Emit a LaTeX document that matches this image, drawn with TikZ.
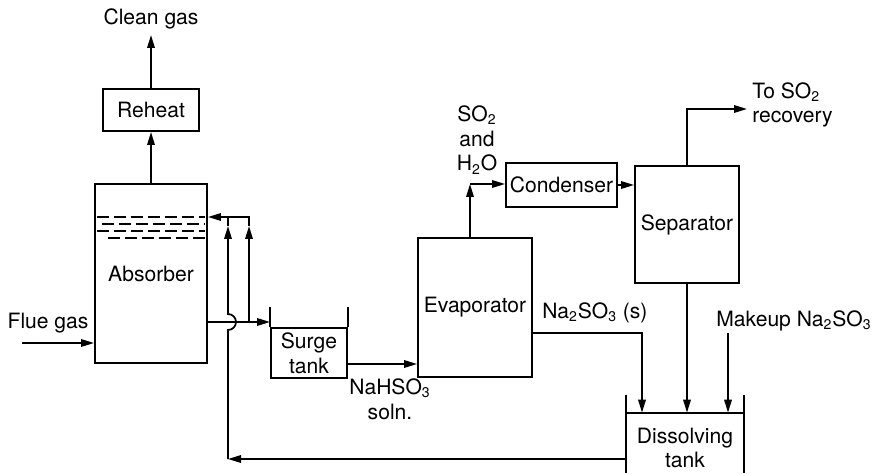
\documentclass[tikz,border=0pt]{standalone}
\usepackage{fontspec}
\setmainfont{TeX Gyre Heros}
\usetikzlibrary{positioning,arrows.meta}

\begin{document}
\begin{tikzpicture}[
    x=0.02cm, y=-0.02cm,
    every node/.style={font=\fontsize{12}{14}\selectfont},
    box/.style={draw, line width=1.1pt, inner sep=0pt, align=center},
    tank/.style={inner sep=0pt, align=center},
    lbl/.style={inner sep=0pt, align=center},
    arr/.style={-{Triangle[length=2.6mm, width=1.5mm]}, line width=1pt},
    wall/.style={line width=1.1pt},
    tray/.style={line width=1.1pt, dash pattern=on 2.4mm off 1mm},
]
    \useasboundingbox (0,0) rectangle (875,473);

    % process units
    \node[box, minimum width=2.24cm, minimum height=3.58cm] (absorber) at (151,273.5) {Absorber};
    \node[box, minimum width=1.92cm, minimum height=0.84cm] (reheat) at (151,110) {Reheat};
    \node[box, minimum width=1.52cm, minimum height=1cm] (surge) at (309,353) {Surge\\tank};
    \node[box, minimum width=2.28cm, minimum height=2.78cm] (evap) at (475,307.5) {Evaporator};
    \node[box, minimum width=2.22cm, minimum height=0.88cm] (condenser) at (561.5,185) {Condenser};
    \node[box, minimum width=2.08cm, minimum height=2.34cm] (separator) at (687,224.5) {Separator};
    \node[tank, minimum width=2.36cm, minimum height=1.4cm] (dtank) at (685,448) {Dissolving\\tank};

    % trays in the absorber
    \foreach \y/\x in {217/97, 224/102, 231/97, 238/108}
        \draw[tray] (\x,\y) -- (205,\y);

    % open tanks
    \draw[wall] (surge.north west) -- ++(0,-20);
    \draw[wall] (surge.north east) -- ++(0,-20);
    \draw[wall] (dtank.north west) -- (dtank.north east);
    \draw[wall] (dtank.north west) ++(0,-18) -- (dtank.west |- 0,473);
    \draw[wall] (dtank.north east) ++(0,-18) -- (dtank.east |- 0,473);

    % stream labels
    \node[lbl] (cleangas) at (151,19) {Clean gas};
    \node[lbl] (fluegas) at (48,323) {Flue gas};
    \node[lbl] (vapourlbl) at (477,140) {SO\textsubscript{2}\\and\\H\textsubscript{2}O};
    \node[lbl, anchor=west, align=left] (recovlbl) at (752,105) {To SO\textsubscript{2}\\recovery};
    \node[lbl, anchor=west] (solidlbl) at (542,313) {Na\textsubscript{2}SO\textsubscript{3} (s)};
    \node[lbl, anchor=west] (makeuplbl) at (716,321) {Makeup Na\textsubscript{2}SO\textsubscript{3}};
    \node[lbl] (solnlbl) at (390,399) {NaHSO\textsubscript{3}\\soln.};

    % stream points
    \coordinate (cleanout) at (151,35);
    \coordinate (fluein) at (22,343);
    \coordinate (outlet) at (absorber.east |- 0,322);
    \coordinate (split) at (249,322);
    \coordinate (spray) at (249,217);
    \coordinate (retcorner) at (228,459);
    \coordinate (soln) at (surge.east |- 0,364);
    \coordinate (vapour) at (470,184);
    \coordinate (recov) at (747,109);
    \coordinate (solid) at (642,333);
    \coordinate (makeup) at (728,333);

    % gas side
    \draw[arr] (fluein) -- (fluein -| absorber.west);
    \draw[arr] (absorber) -- (reheat);
    \draw[arr] (reheat) -- (cleanout);

    % liquor loop
    \draw[arr] (outlet) -- (outlet -| surge.west);
    \draw[arr] (split) -- (249,226);
    \draw[arr] (249,226) |- (absorber.east |- spray);
    \draw[arr] (dtank.west |- retcorner) -- (retcorner);
    \draw[arr] (retcorner) -- (228,330) arc[start angle=-90, end angle=90, radius=0.16cm] -- (228,226);
    \draw[wall] (228,226) -- (228,217);
    \draw[arr] (soln) -- (soln -| evap.west);

    % regeneration
    \draw[arr] (vapour |- evap.north) -- (vapour);
    \draw[arr] (vapour) -- (vapour -| condenser.west);
    \draw[arr] (condenser.east) -- (condenser.east -| separator.west);
    \draw[arr] (separator.north) |- (recov);
    \draw[arr] (separator.south) -- (separator.south |- dtank.north);
    \draw[arr] (evap.east |- solid) -- (solid) -- (solid |- dtank.north);
    \draw[arr] (makeup) -- (makeup |- dtank.north);
\end{tikzpicture}
\end{document}
